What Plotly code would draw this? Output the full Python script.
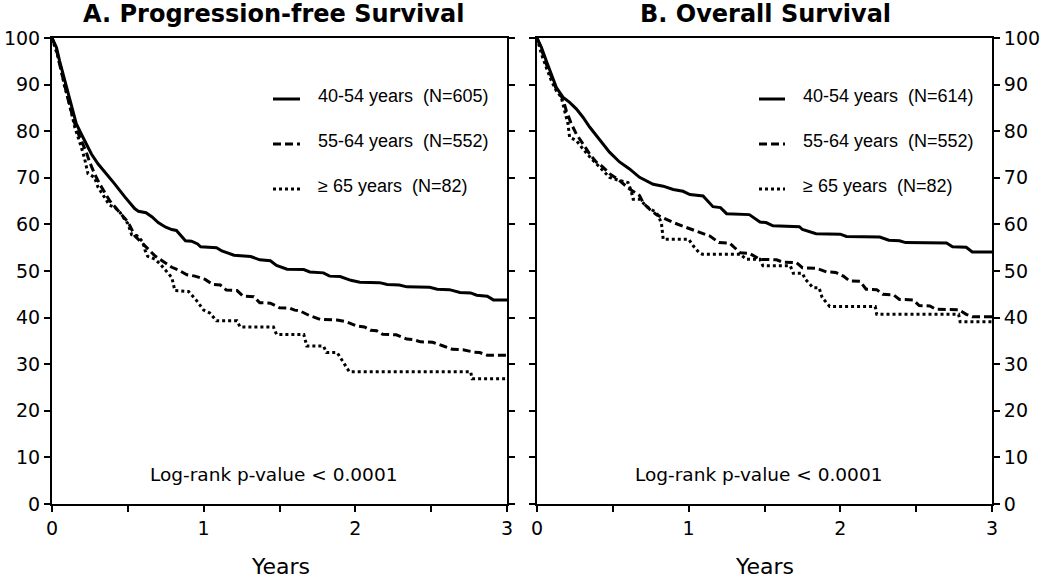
import plotly.graph_objects as go

# ---------------- data ----------------
groups = ["40-54 years", "55-64 years", "\u2265 65 years"]
n_pfs = [605, 552, 82]
n_os = [614, 552, 82]
x_ticks = [0, 0.5, 1, 1.5, 2, 2.5, 3]
x_ticktext = ["0", "", "1", "", "2", "", "3"]
y_ticks = [0, 10, 20, 30, 40, 50, 60, 70, 80, 90, 100]

# Progression-free survival (years, %)
pfs_t_1 = [0, 0.029, 0.05, 0.073, 0.095, 0.116, 0.138, 0.16, 0.193, 0.226, 0.26, 0.303, 0.358, 0.413,
           0.48, 0.545, 0.57, 0.62, 0.66, 0.70, 0.75, 0.79, 0.82, 0.855, 0.88, 0.92, 0.96, 0.98, 1.085,
           1.12, 1.15, 1.2, 1.31, 1.37, 1.44, 1.48, 1.55, 1.66, 1.70, 1.79, 1.83, 1.9, 1.97, 2.03, 2.16,
           2.21, 2.29, 2.34, 2.49, 2.54, 2.62, 2.69, 2.76, 2.80, 2.87, 2.91, 3.0]
pfs_s_1 = [100, 98, 95.1, 92.3, 89.4, 86.6, 84.1, 81.6, 79.4, 77.3, 75.1, 73, 70.9, 68.7,
           65.9, 63.4, 62.8, 62.5, 61.6, 60.4, 59.4, 58.9, 58.7, 57.4, 56.5, 56.4, 55.8, 55.2, 55,
           54.3, 53.9, 53.4, 53.1, 52.4, 52.2, 51.2, 50.4, 50.3, 49.8, 49.6, 48.9, 48.8, 48, 47.6, 47.5,
           47.1, 47, 46.6, 46.5, 46.1, 46, 45.4, 45.3, 44.8, 44.6, 43.8, 43.8]

pfs_t_2 = [0, 0.029, 0.05, 0.073, 0.095, 0.116, 0.138, 0.16, 0.193, 0.226, 0.248, 0.28, 0.314, 0.347,
           0.38, 0.435, 0.47, 0.503, 0.547, 0.58, 0.613, 0.68, 0.745, 0.79, 0.833, 0.89, 0.943, 0.976,
           1.01, 1.06, 1.11, 1.15, 1.22, 1.26, 1.33, 1.37, 1.44, 1.5, 1.57, 1.6, 1.63, 1.70, 1.77, 1.88,
           1.94, 2.01, 2.06, 2.10, 2.14, 2.18, 2.27, 2.34, 2.38, 2.43, 2.51, 2.58, 2.64, 2.71, 2.78,
           2.82, 2.87, 3.0]
pfs_s_2 = [100, 97.6, 94.4, 91.2, 88.4, 85.5, 83, 80.5, 78, 75.5, 73.4, 70.9, 68.7, 66.9,
           65.1, 63, 61.6, 60.4, 57.5, 56.5, 55.4, 53.2, 51.8, 50.8, 50.2, 49.2, 48.9, 48.6,
           48.2, 47.1, 47, 45.9, 45.8, 44.6, 44.5, 43.2, 43.1, 42.1, 42, 41.6, 41.5, 40.4, 39.6, 39.5,
           39.1, 38.2, 38, 37.3, 37.2, 36.4, 36.3, 35.4, 35.3, 34.8, 34.7, 33.9, 33.2, 33.1, 32.6,
           32.5, 31.9, 31.9]

pfs_t_3 = [0, 0.04, 0.062, 0.084, 0.105, 0.127, 0.15, 0.193, 0.215, 0.237, 0.28, 0.303, 0.347, 0.38,
           0.413, 0.45, 0.48, 0.5, 0.525, 0.56, 0.6, 0.613, 0.63, 0.68, 0.71, 0.767, 0.79, 0.81, 0.9,
           0.95, 1.0, 1.04, 1.085, 1.22, 1.24, 1.46, 1.48, 1.66, 1.68, 1.79, 1.81, 1.88, 1.92, 1.96,
           2.76, 2.77, 3.0]
pfs_s_3 = [100, 95.9, 93, 89.4, 87.3, 84.4, 80.9, 76.6, 74.1, 70.9, 70.1, 68, 65.9, 64.1,
           63.7, 62.5, 61, 60.2, 57.8, 57.6, 56.2, 54.5, 53.2, 52.5, 51.6, 49.6, 48.6, 45.8, 45.6,
           43.8, 41.6, 41, 39.3, 39.3, 38, 38, 36.4, 36.4, 33.9, 33.9, 32.5, 32.5, 30.4, 28.4,
           28.4, 26.9, 26.9]

# Overall survival (years, %)
os_t_1 = [0, 0.029, 0.061, 0.094, 0.127, 0.171, 0.215, 0.259, 0.303, 0.347, 0.39, 0.435, 0.478, 0.544,
          0.61, 0.676, 0.72, 0.766, 0.832, 0.898, 0.963, 1.008, 1.095, 1.14, 1.16, 1.21, 1.25, 1.4,
          1.47, 1.51, 1.556, 1.73, 1.75, 1.84, 2.0, 2.04, 2.26, 2.32, 2.39, 2.43, 2.7, 2.74, 2.83,
          2.87, 3.0]
os_s_1 = [100, 98, 95.1, 92.3, 89.4, 87.3, 86.2, 84.8, 83, 80.9, 79.1, 77.3, 75.5, 73.4,
          71.9, 70.1, 69.4, 68.6, 68.2, 67.5, 67.1, 66.4, 66.1, 64.5, 63.8, 63.6, 62.3, 62.1,
          60.5, 60.4, 59.7, 59.5, 58.9, 58, 57.9, 57.4, 57.3, 56.6, 56.5, 56.1, 56, 55.2, 55.1,
          54.1, 54.1]

os_t_2 = [0, 0.029, 0.061, 0.094, 0.127, 0.171, 0.193, 0.226, 0.259, 0.303, 0.347, 0.39, 0.435, 0.478,
          0.544, 0.61, 0.676, 0.70, 0.744, 0.788, 0.832, 0.898, 0.963, 1.05, 1.14, 1.2, 1.27, 1.34,
          1.4, 1.47, 1.58, 1.62, 1.71, 1.75, 1.84, 1.91, 1.97, 2.02, 2.06, 2.13, 2.17, 2.24, 2.28,
          2.35, 2.39, 2.48, 2.52, 2.59, 2.63, 2.78, 2.83, 2.87, 3.0]
os_s_2 = [100, 97.6, 94.4, 91.6, 89.1, 86.9, 84.4, 81.6, 79.4, 77.3, 75.1, 73.4, 72.3, 70.9,
          69.4, 67.6, 66.2, 64.6, 63.2, 62.1, 61.4, 60.4, 59.6, 58.6, 57.5, 56.1, 56, 53.9,
          53.8, 52.5, 52.4, 51.9, 51.8, 50.7, 50.6, 49.8, 49.7, 48.9, 47.9, 47.8, 46.1, 46, 45,
          44.9, 43.9, 43.8, 42.6, 42.5, 41.8, 41.7, 40.7, 40.2, 40.2]

os_t_3 = [0, 0.029, 0.061, 0.094, 0.127, 0.16, 0.182, 0.204, 0.215, 0.259, 0.303, 0.358, 0.413, 0.478,
          0.544, 0.6, 0.62, 0.634, 0.678, 0.72, 0.788, 0.82, 0.832, 1.0, 1.03, 1.07, 1.09, 1.34, 1.38,
          1.47, 1.49, 1.67, 1.69, 1.75, 1.77, 1.82, 1.86, 1.88, 1.93, 2.23, 2.24, 2.78, 2.79, 3.0]
os_s_3 = [100, 96.6, 93.7, 90.9, 88.7, 87.3, 84.4, 81.6, 78.7, 78, 76.2, 74.1, 72.3, 70.1,
          69.4, 69, 67.3, 65.4, 65.4, 63.9, 62.5, 60.4, 56.8, 56.8, 55.4, 53.9, 53.6, 53.6, 52.5,
          52.5, 51.1, 51.1, 49.5, 49.5, 48.2, 46.4, 46.4, 44.3, 42.4, 42.4, 40.7, 40.7, 39.1, 39.1]

# ---------------- figure ----------------
W, H = 1050, 578
def px(x):
    return x / W
def py(y):
    return 1 - y / H

dashes = ["solid", "8px,4px", "3px,3px"]
fig = go.Figure()

pfs = [(pfs_t_1, pfs_s_1), (pfs_t_2, pfs_s_2), (pfs_t_3, pfs_s_3)]
oss = [(os_t_1, os_s_1), (os_t_2, os_s_2), (os_t_3, os_s_3)]
for i, (t, s) in enumerate(pfs):
    fig.add_trace(go.Scatter(x=t, y=s, mode="lines", line=dict(color="black", width=3, dash=dashes[i]),
                             xaxis="x", yaxis="y", showlegend=False, hoverinfo="skip"))
for i, (t, s) in enumerate(oss):
    fig.add_trace(go.Scatter(x=t, y=s, mode="lines", line=dict(color="black", width=3, dash=dashes[i]),
                             xaxis="x2", yaxis="y2", showlegend=False, hoverinfo="skip"))

tickfont = dict(family="DejaVu Sans", size=19, color="black")
common_x = dict(range=[0, 3], tickvals=x_ticks, ticktext=x_ticktext, ticks="outside", ticklen=6,
                tickwidth=2, tickcolor="black", showline=True, linecolor="black", linewidth=2,
                mirror=True, showgrid=False, zeroline=False, tickfont=tickfont, automargin=False,
                fixedrange=True)
common_y = dict(range=[0, 100], tickvals=y_ticks, ticks="outside", ticklen=6, tickwidth=2,
                tickcolor="black", showline=True, linecolor="black", linewidth=2, mirror="ticks",
                showgrid=False, zeroline=False, tickfont=tickfont, automargin=False, fixedrange=True)

ydom = [1 - 504 / H, 1 - 38 / H]
fig.update_layout(
    width=W, height=H,
    margin=dict(l=0, r=0, t=0, b=0),
    paper_bgcolor="white", plot_bgcolor="white",
    showlegend=False,
    xaxis=dict(domain=[px(52), px(507)], anchor="y", **common_x),
    yaxis=dict(domain=ydom, anchor="x", side="left", **common_y),
    xaxis2=dict(domain=[px(537), px(992)], anchor="y2", **common_x),
    yaxis2=dict(domain=ydom, anchor="x2", side="right", **common_y),
)

ann = []
# titles
title_font = dict(family="DejaVu Sans", size=24, color="black")
ann.append(dict(text="<b>A. Progression-free Survival</b>", x=px(273), y=py(14), xref="paper", yref="paper",
                showarrow=False, font=title_font, xanchor="center", yanchor="middle"))
ann.append(dict(text="<b>B. Overall Survival</b>", x=px(765), y=py(14), xref="paper", yref="paper",
                showarrow=False, font=title_font, xanchor="center", yanchor="middle"))
# axis titles
for cx in (280, 764):
    ann.append(dict(text="Years", x=px(cx), y=py(566), xref="paper", yref="paper", showarrow=False,
                    font=dict(family="DejaVu Sans", size=22, color="black"), xanchor="center", yanchor="middle"))
# log-rank
for cx in (273, 758):
    ann.append(dict(text="Log-rank p-value &lt; 0.0001", x=px(cx), y=py(474), xref="paper", yref="paper",
                    showarrow=False, font=dict(family="DejaVu Sans", size=18.5, color="black"),
                    xanchor="center", yanchor="middle"))

# legends (line samples + text)
shapes = []
row_y = [96, 141, 186]
for panel, (lx0, lx1, tx, ns) in enumerate([(273, 300, 316, n_pfs), (759, 785, 801, n_os)]):
    for i in range(3):
        shapes.append(dict(type="line", xref="paper", yref="paper", x0=px(lx0), x1=px(lx1),
                           y0=py(row_y[i] + 3), y1=py(row_y[i] + 3),
                           line=dict(color="black", width=3, dash=dashes[i])))
        ann.append(dict(text=f"{groups[i]}\u00a0\u00a0(N={ns[i]})", x=px(tx), y=py(row_y[i]),
                        xref="paper", yref="paper", showarrow=False, xanchor="left", yanchor="middle",
                        font=dict(family="Liberation Sans", size=18, color="black")))

fig.update_layout(annotations=ann, shapes=shapes)
fig.write_html("out.html", config={"displayModeBar": False},
               post_script="document.body.style.margin='0';")
